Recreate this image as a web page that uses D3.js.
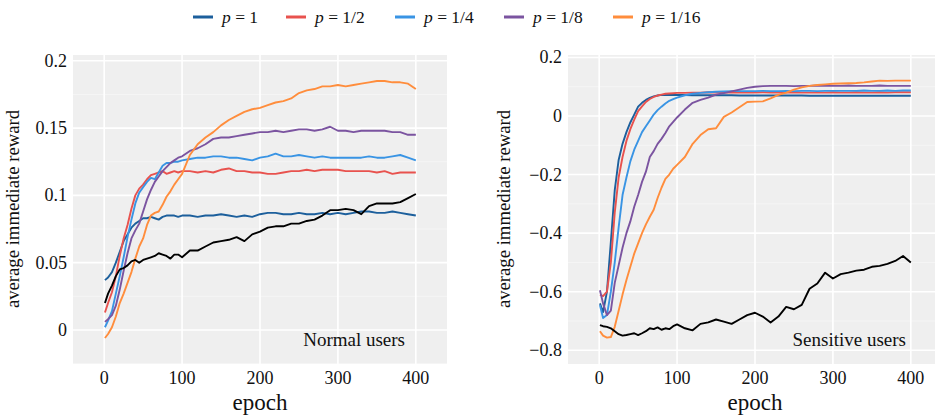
<!DOCTYPE html>
<html>
<head>
<meta charset="utf-8">
<script src="https://cdn.jsdelivr.net/npm/d3@7"></script>
<style>
  body { margin: 0; background: #fff; }
</style>
</head>
<body>
<svg id="chart" width="935" height="420" font-family="'Liberation Serif', 'DejaVu Serif', serif"></svg>
<script>
// epochs shared by every curve
var epochs = [1,5,10,15,20,25,30,35,40,45,50,55,60,65,70,75,80,85,90,95,100,
  110,120,130,140,150,160,170,180,190,200,210,220,230,240,250,260,270,280,290,300,
  310,320,330,340,350,360,370,380,390,400];

var legendLabels = ["1", "1/2", "1/4", "1/8", "1/16"];
var colors = ["#1c5f9c", "#e8524e", "#3994e4", "#7b54a0", "#ff8d3c"];

// normal users
var normalP1 = [0.037,0.039,0.043,0.050,0.058,0.066,0.071,0.076,0.079,0.081,0.083,0.083,0.084,0.083,0.082,0.084,0.085,0.085,0.085,0.084,0.085,
  0.085,0.084,0.085,0.085,0.086,0.085,0.084,0.085,0.084,0.086,0.087,0.087,0.086,0.086,0.087,0.086,0.086,0.087,0.086,0.087,
  0.086,0.087,0.088,0.088,0.087,0.087,0.088,0.087,0.086,0.085];
var normalP2 = [0.013,0.020,0.028,0.040,0.055,0.068,0.078,0.090,0.100,0.105,0.108,0.112,0.115,0.116,0.117,0.118,0.116,0.117,0.118,0.117,0.118,
  0.118,0.117,0.118,0.117,0.119,0.120,0.118,0.118,0.117,0.117,0.116,0.116,0.117,0.118,0.118,0.119,0.118,0.119,0.119,0.119,
  0.118,0.118,0.118,0.118,0.117,0.118,0.116,0.117,0.117,0.117];
var normalP4 = [0.002,0.007,0.014,0.027,0.040,0.054,0.069,0.082,0.094,0.102,0.106,0.110,0.113,0.112,0.117,0.122,0.124,0.124,0.125,0.125,0.126,
  0.127,0.128,0.128,0.129,0.129,0.128,0.128,0.127,0.126,0.128,0.129,0.131,0.129,0.129,0.130,0.129,0.128,0.129,0.128,0.128,
  0.128,0.128,0.128,0.129,0.128,0.128,0.129,0.130,0.128,0.126];
var normalP8 = [0.006,0.008,0.011,0.018,0.030,0.044,0.057,0.068,0.074,0.079,0.088,0.097,0.104,0.110,0.114,0.118,0.121,0.124,0.126,0.128,0.129,
  0.133,0.135,0.138,0.142,0.143,0.143,0.144,0.145,0.146,0.147,0.147,0.148,0.147,0.148,0.149,0.149,0.148,0.149,0.151,0.148,
  0.148,0.147,0.148,0.148,0.148,0.148,0.147,0.147,0.145,0.145];
var normalP16 = [-0.006,-0.003,0.002,0.010,0.020,0.027,0.035,0.043,0.053,0.062,0.068,0.078,0.085,0.087,0.088,0.093,0.099,0.103,0.108,0.112,0.116,
  0.130,0.138,0.143,0.147,0.152,0.156,0.159,0.162,0.164,0.165,0.167,0.169,0.170,0.172,0.176,0.178,0.179,0.181,0.181,0.182,
  0.181,0.182,0.183,0.184,0.185,0.185,0.184,0.184,0.183,0.179];
var normalBase = [0.020,0.027,0.033,0.040,0.045,0.046,0.048,0.051,0.052,0.050,0.052,0.053,0.054,0.055,0.057,0.056,0.055,0.053,0.056,0.056,0.054,
  0.059,0.059,0.062,0.065,0.066,0.067,0.069,0.066,0.071,0.073,0.076,0.077,0.077,0.079,0.079,0.081,0.082,0.085,0.089,0.089,
  0.090,0.089,0.086,0.092,0.094,0.094,0.094,0.095,0.098,0.101];

// sensitive users
var sensP1 = [-0.640,-0.670,-0.600,-0.430,-0.253,-0.150,-0.095,-0.055,-0.022,0.005,0.032,0.045,0.055,0.062,0.067,0.070,0.072,0.072,0.072,0.072,0.072,
  0.072,0.071,0.071,0.071,0.071,0.071,0.071,0.070,0.070,0.070,0.070,0.070,0.070,0.070,0.070,0.070,0.069,0.069,0.069,0.069,
  0.069,0.069,0.069,0.069,0.069,0.069,0.069,0.069,0.069,0.069];
var sensP2 = [-0.610,-0.615,-0.600,-0.500,-0.330,-0.210,-0.140,-0.085,-0.045,-0.012,0.017,0.033,0.048,0.058,0.065,0.070,0.073,0.076,0.077,0.078,0.079,
  0.079,0.080,0.080,0.081,0.080,0.080,0.081,0.080,0.080,0.080,0.081,0.080,0.080,0.080,0.081,0.080,0.080,0.080,0.080,0.081,
  0.080,0.080,0.081,0.080,0.080,0.081,0.080,0.081,0.081,0.081];
var sensP4 = [-0.646,-0.690,-0.680,-0.600,-0.500,-0.380,-0.270,-0.210,-0.155,-0.115,-0.085,-0.055,-0.035,-0.015,0.005,0.020,0.032,0.043,0.052,0.058,0.063,
  0.071,0.076,0.079,0.081,0.083,0.084,0.085,0.085,0.085,0.085,0.086,0.085,0.085,0.086,0.085,0.086,0.086,0.085,0.086,0.086,
  0.086,0.086,0.086,0.087,0.086,0.086,0.087,0.086,0.087,0.087];
var sensP8 = [-0.595,-0.640,-0.680,-0.665,-0.570,-0.510,-0.450,-0.400,-0.360,-0.310,-0.270,-0.225,-0.190,-0.140,-0.120,-0.095,-0.078,-0.058,-0.035,-0.020,-0.005,
  0.022,0.045,0.055,0.063,0.073,0.078,0.084,0.090,0.096,0.100,0.102,0.103,0.103,0.103,0.102,0.103,0.103,0.104,0.103,0.103,
  0.103,0.104,0.103,0.103,0.103,0.104,0.103,0.103,0.103,0.103];
var sensP16 = [-0.735,-0.750,-0.757,-0.755,-0.720,-0.665,-0.610,-0.560,-0.515,-0.470,-0.435,-0.400,-0.370,-0.344,-0.320,-0.280,-0.245,-0.215,-0.200,-0.180,-0.167,
  -0.140,-0.095,-0.065,-0.045,-0.042,-0.003,0.012,0.030,0.048,0.049,0.050,0.060,0.072,0.080,0.090,0.098,0.103,0.106,0.108,0.110,
  0.111,0.112,0.113,0.115,0.118,0.121,0.120,0.121,0.121,0.121];
var sensBase = [-0.714,-0.718,-0.720,-0.725,-0.735,-0.745,-0.750,-0.748,-0.745,-0.742,-0.748,-0.742,-0.735,-0.725,-0.728,-0.722,-0.730,-0.725,-0.728,-0.718,-0.712,
  -0.725,-0.732,-0.710,-0.705,-0.695,-0.702,-0.710,-0.695,-0.680,-0.672,-0.685,-0.705,-0.685,-0.652,-0.660,-0.645,-0.590,-0.572,-0.535,-0.555,
  -0.540,-0.535,-0.528,-0.525,-0.515,-0.512,-0.505,-0.495,-0.478,-0.500];

var xTicks = [0, 100, 200, 300, 400];
var normalYTicks = [0, 0.05, 0.1, 0.15, 0.2];
var normalYLabels = ["0", "0.05", "0.1", "0.15", "0.2"];
var normalYMinor = [-0.025, 0.025, 0.075, 0.125, 0.175];
var sensYTicks = [-0.8, -0.6, -0.4, -0.2, 0, 0.2];
var sensYLabels = ["\u22120.8", "\u22120.6", "\u22120.4", "\u22120.2", "0", "0.2"];
var sensYMinor = [-0.7, -0.5, -0.3, -0.1, 0.1];

var svg = d3.select("#chart");

function drawPanel(p) {
  var x = d3.scaleLinear().domain([-40, 440]).range([p.left, p.right]);
  var y = d3.scaleLinear().domain(p.yDomain).range([364, 55]);
  var g = svg.append("g");

  g.append("rect").attr("x", p.left).attr("y", 55)
    .attr("width", p.right - p.left).attr("height", 309).attr("fill", "#efefef");

  g.selectAll(".minor").data(p.yMinor).enter().append("line")
    .attr("x1", p.left).attr("x2", p.right).attr("y1", d => y(d)).attr("y2", d => y(d))
    .attr("stroke", "#fff").attr("stroke-opacity", 0.55).attr("stroke-width", 0.8);
  g.selectAll(".hg").data(p.yTicks).enter().append("line")
    .attr("x1", p.left).attr("x2", p.right).attr("y1", d => y(d)).attr("y2", d => y(d))
    .attr("stroke", "#fff").attr("stroke-width", 1.6);
  g.selectAll(".vg").data(xTicks).enter().append("line")
    .attr("y1", 55).attr("y2", 364).attr("x1", d => x(d)).attr("x2", d => x(d))
    .attr("stroke", "#fff").attr("stroke-width", 1.6);

  // tick labels
  g.selectAll(".yl").data(p.yTicks).enter().append("text")
    .attr("x", p.left - 6).attr("y", d => y(d) + 6)
    .attr("text-anchor", "end").attr("font-size", 18).attr("fill", "#111")
    .text((d, i) => p.yLabels[i]);
  g.selectAll(".xl").data(xTicks).enter().append("text")
    .attr("x", d => x(d)).attr("y", 384)
    .attr("text-anchor", "middle").attr("font-size", 18).attr("fill", "#111")
    .text(d => d);

  g.append("text").attr("x", (p.left + p.right) / 2).attr("y", 410)
    .attr("text-anchor", "middle").attr("font-size", 23).attr("fill", "#111").text("epoch");
  g.append("text")
    .attr("transform", "translate(" + p.titleX + "," + 209 + ") rotate(-90)")
    .attr("text-anchor", "middle").attr("font-size", 18.7).attr("fill", "#111")
    .text("average immediate reward");

  var line = d3.line().x((d, i) => x(epochs[i])).y(d => y(d));
  p.series.forEach(function(s, k) {
    g.append("path").datum(s).attr("d", line)
      .attr("fill", "none").attr("stroke", colors[k]).attr("stroke-width", 1.9)
      .attr("stroke-linejoin", "round");
  });
  g.append("path").datum(p.base).attr("d", line)
    .attr("fill", "none").attr("stroke", "#000").attr("stroke-width", 1.9)
    .attr("stroke-linejoin", "round");

  g.append("text").attr("x", p.noteX).attr("y", 346)
    .attr("text-anchor", "end").attr("font-size", 19).attr("fill", "#111").text(p.note);
}

drawPanel({left: 73, right: 447, yDomain: [-0.0253, 0.2043],
  yTicks: normalYTicks, yLabels: normalYLabels, yMinor: normalYMinor,
  series: [normalP1, normalP2, normalP4, normalP8, normalP16], base: normalBase,
  titleX: 19, note: "Normal users", noteX: 405});

drawPanel({left: 568, right: 942, yDomain: [-0.847, 0.2084],
  yTicks: sensYTicks, yLabels: sensYLabels, yMinor: sensYMinor,
  series: [sensP1, sensP2, sensP4, sensP8, sensP16], base: sensBase,
  titleX: 510, note: "Sensitive users", noteX: 906});

// legend
var legendX = [193, 286, 395, 504, 613];
var lg = svg.selectAll(".leg").data(legendLabels).enter().append("g")
  .attr("transform", (d, i) => "translate(" + legendX[i] + ",17)");
lg.append("line").attr("x1", 0).attr("x2", 20).attr("y1", 0).attr("y2", 0)
  .attr("stroke", (d, i) => colors[i]).attr("stroke-width", 3);
var lt = lg.append("text").attr("x", 29).attr("y", 6).attr("font-size", 17.5).attr("fill", "#111");
lt.append("tspan").attr("font-style", "italic").text("p");
lt.append("tspan").text(d => " = " + d);
</script>
</body>
</html>
